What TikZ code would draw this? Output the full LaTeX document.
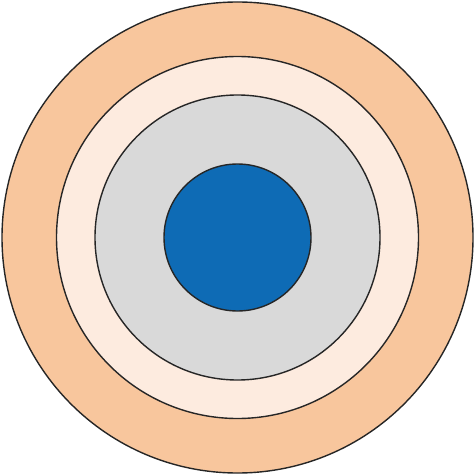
\documentclass[tikz,border=0pt]{standalone}
\usepackage{tikz}

\definecolor{ringpeach}{HTML}{F8C69D}
\definecolor{ringcream}{HTML}{FDEBDF}
\definecolor{ringgrey}{HTML}{D9D9D9}
\definecolor{coreblue}{HTML}{0E6BB5}

\begin{document}
\begin{tikzpicture}
    [
      x=1pt,y=1pt,
      ring/.style={draw=black!85,line width=1.4pt,circle,inner sep=0pt}
    ]

    \useasboundingbox (0,0) rectangle (475,-476);

    \node at (237.5,-237.5) [ring,fill=ringpeach,minimum size=471pt] (outer) {};
    \node at (outer.center) [ring,fill=ringcream,minimum size=362pt] (middle) {};
    \node at (outer.center) [ring,fill=ringgrey,minimum size=285pt] (inner) {};
    \node at (outer.center) [ring,fill=coreblue,minimum size=147pt] (core) {};
  \end{tikzpicture}
\end{document}
